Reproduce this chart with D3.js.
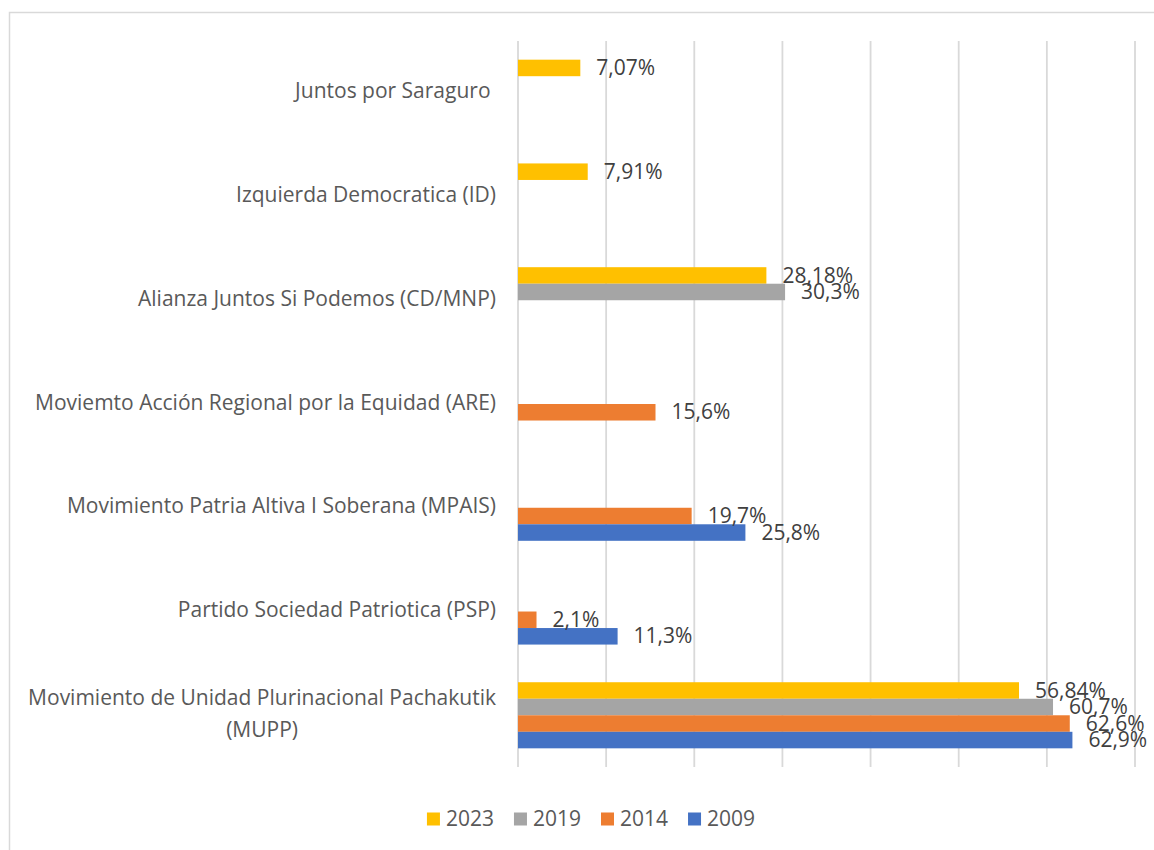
<!DOCTYPE html>
<html>
<head>
<meta charset="utf-8">
<script src="https://cdn.jsdelivr.net/npm/d3@7"></script>
<style>
  body { margin: 0; background: #fff; }
  text { font-family: "Open Sans", sans-serif; }
</style>
</head>
<body>
<div id="chart"></div>
<script>
(function(){
    // categories, top to bottom
    const categories = [
        "Juntos por Saraguro ",
        "Izquierda Democratica (ID)",
        "Alianza Juntos Si Podemos (CD/MNP)",
        "Moviemto Acción Regional por la Equidad (ARE)",
        "Movimiento Patria Altiva I Soberana (MPAIS)",
        "Partido Sociedad Patriotica (PSP)",
        "Movimiento de Unidad Plurinacional Pachakutik (MUPP)"
    ];
    const seriesNames = ["2023", "2019", "2014", "2009"];
    const values2023 = [7.07, 7.91, 28.18, null, null, null, 56.84];
    const values2019 = [null, null, 30.3, null, null, null, 60.7];
    const values2014 = [null, null, null, 15.6, 19.7, 2.1, 62.6];
    const values2009 = [null, null, null, null, 25.8, 11.3, 62.9];
    const xTicks = [0, 10, 20, 30, 40, 50, 60, 70];

    const seriesValues = [values2023, values2019, values2014, values2009];
    const colors = ["#FFC000", "#A5A5A5", "#ED7D31", "#4472C4"];

    const width = 1154, height = 850;
    const plot = { left: 518, right: 1135, top: 41, bottom: 767 };
    const fontSize = "21px";

    const svg = d3.select("#chart").append("svg")
        .attr("width", width)
        .attr("height", height);

    // chart frame
    svg.append("rect")
        .attr("x", 9.5).attr("y", 12.5)
        .attr("width", 1300).attr("height", 1000)
        .attr("fill", "none")
        .attr("stroke", "#d9d9d9")
        .attr("stroke-width", 1.5);

    const x = d3.scaleLinear().domain([0, 70]).range([plot.left, plot.right]);
    const y = d3.scaleBand().domain(categories)
        .range([plot.top, plot.bottom])
        .paddingInner(0.363).paddingOuter(0.18);
    const y1 = d3.scaleBand().domain(seriesNames).range([0, y.bandwidth()]);

    // vertical gridlines
    svg.append("g").selectAll("line")
        .data(xTicks)
        .enter().append("line")
        .attr("x1", d => x(d)).attr("x2", d => x(d))
        .attr("y1", plot.top).attr("y2", plot.bottom)
        .attr("stroke", "#d9d9d9")
        .attr("stroke-width", 1.8);

    // bars
    const points = [];
    seriesNames.forEach((s, si) => {
        categories.forEach((c, ci) => {
            const v = seriesValues[si][ci];
            if (v != null) points.push({ series: s, si: si, cat: c, value: v });
        });
    });

    svg.append("g").selectAll("rect")
        .data(points)
        .enter().append("rect")
        .attr("x", x(0))
        .attr("y", d => y(d.cat) + y1(d.series))
        .attr("width", d => x(d.value) - x(0))
        .attr("height", y1.bandwidth())
        .attr("fill", d => colors[d.si]);

    // data labels
    svg.append("g").selectAll("text")
        .data(points)
        .enter().append("text")
        .attr("x", d => x(d.value) + 16)
        .attr("y", d => y(d.cat) + y1(d.series) + y1.bandwidth() / 2 + 1.5)
        .attr("dominant-baseline", "middle")
        .attr("font-size", fontSize)
        .attr("fill", "#404040")
        .text(d => String(d.value).replace(".", ",") + "%");

    // category labels, wrapped and right aligned
    const labelRight = 496, maxLabelW = 490, lineH = 32;
    const catG = svg.append("g");
    categories.forEach(c => {
        const t = catG.append("text")
            .attr("font-size", fontSize)
            .attr("fill", "#595959")
            .style("white-space", "pre");
        // wrap words
        const words = c.split(" ");
        const lines = [];
        let cur = "";
        const probe = t.append("tspan");
        words.forEach(w => {
            const test = cur ? cur + " " + w : w;
            probe.text(test);
            if (probe.node().getComputedTextLength() > maxLabelW && cur) {
                lines.push(cur);
                cur = w;
            } else {
                cur = test;
            }
        });
        lines.push(cur);
        probe.remove();

        const widths = lines.map(l => {
            const p = t.append("tspan").text(l);
            const w = p.node().getComputedTextLength();
            p.remove();
            return w;
        });
        const blockW = d3.max(widths);
        const cx = labelRight - blockW / 2;
        const cy = y(c) + y.bandwidth() / 2;
        const y0 = cy - (lines.length - 1) * lineH / 2;
        t.attr("text-anchor", lines.length > 1 ? "middle" : "end");
        lines.forEach((l, i) => {
            t.append("tspan")
                .attr("x", lines.length > 1 ? cx : labelRight)
                .attr("y", y0 + i * lineH)
                .attr("dominant-baseline", "middle")
                .text(l);
        });
    });

    // legend
    const legend = svg.append("g");
    const items = legend.selectAll("g")
        .data(seriesNames)
        .enter().append("g");
    items.append("rect")
        .attr("width", 13).attr("height", 13)
        .attr("y", -6.5)
        .attr("fill", (d, i) => colors[i]);
    items.append("text")
        .attr("x", 19)
        .attr("dominant-baseline", "middle")
        .attr("y", 1)
        .attr("font-size", fontSize)
        .attr("fill", "#595959")
        .text(d => d);
    let offset = 0;
    const itemGap = 20;
    items.each(function(){
        const g = d3.select(this);
        g.attr("transform", `translate(${offset},0)`);
        offset += 19 + g.select("text").node().getComputedTextLength() + itemGap;
    });
    const legendW = offset - itemGap;
    legend.attr("transform", `translate(${591 - legendW / 2},819)`);
})();
</script>
</body>
</html>
